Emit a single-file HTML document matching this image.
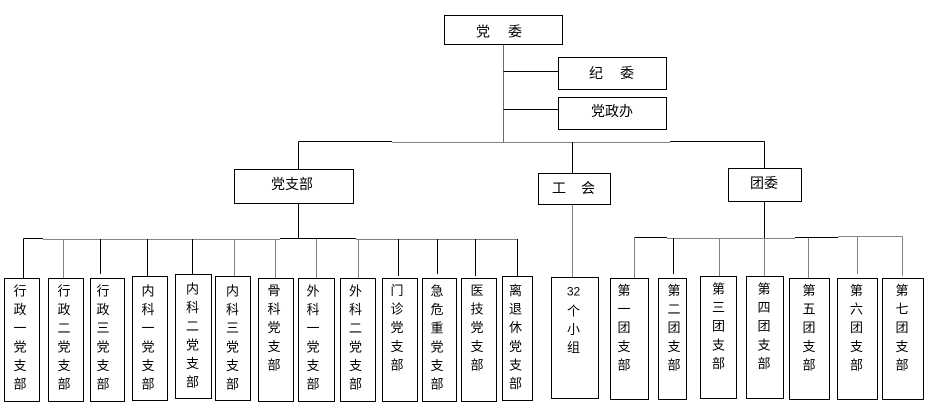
<!DOCTYPE html>
<html>
<head>
<meta charset="utf-8">
<style>
  html, body { margin: 0; padding: 0; background: #fff; }
  body { width: 930px; height: 409px; overflow: hidden; }
  svg { display: block; }
  text { font-family: "Liberation Sans", "Noto Sans CJK SC", sans-serif; font-size: 13px; fill: #000; }
</style>
</head>
<body>
<svg width="930" height="409" viewBox="0 0 930 409" xmlns="http://www.w3.org/2000/svg" shape-rendering="crispEdges">
  <rect x="0" y="0" width="930" height="409" fill="#fff"/>

  <!-- connectors -->
  <g stroke-width="1" fill="none">
    <!-- top trunk -->
    <line x1="503.5" y1="44" x2="503.5" y2="142" stroke="#6a6a6a"/>
    <line x1="503.5" y1="71.5" x2="558" y2="71.5" stroke="#000"/>
    <line x1="503.5" y1="109.5" x2="558" y2="109.5" stroke="#000"/>
    <!-- level-2 horizontal -->
    <line x1="298.5" y1="141.5" x2="392" y2="141.5" stroke="#000"/>
    <line x1="392" y1="142.5" x2="670" y2="142.5" stroke="#808080"/>
    <line x1="670" y1="141.5" x2="764.5" y2="141.5" stroke="#000"/>
    <!-- drops to level 2 -->
    <line x1="298.5" y1="141.5" x2="298.5" y2="169" stroke="#000"/>
    <line x1="572.5" y1="142" x2="572.5" y2="173" stroke="#000"/>
    <line x1="764.5" y1="141.5" x2="764.5" y2="168" stroke="#000"/>
    <!-- below level 2 -->
    <line x1="298.5" y1="203" x2="298.5" y2="239" stroke="#000"/>
    <line x1="572.5" y1="205" x2="572.5" y2="277" stroke="#808080"/>
    <line x1="764.5" y1="201" x2="764.5" y2="238" stroke="#000"/>

    <!-- party branch horizontal -->
    <line x1="23.5" y1="238.5" x2="43" y2="238.5" stroke="#000"/>
    <line x1="43" y1="239.5" x2="280" y2="239.5" stroke="#8a8a8a"/>
    <line x1="280" y1="238.5" x2="356" y2="238.5" stroke="#000"/>
    <line x1="356" y1="239.5" x2="517.5" y2="239.5" stroke="#808080"/>
    <!-- party verticals -->
    <line x1="23.5" y1="238.5" x2="23.5" y2="278" stroke="#000"/>
    <line x1="63.5" y1="239" x2="63.5" y2="278" stroke="#808080"/>
    <line x1="100.5" y1="239" x2="100.5" y2="274" stroke="#000"/>
    <line x1="147.5" y1="239" x2="147.5" y2="276" stroke="#000"/>
    <line x1="192.5" y1="239" x2="192.5" y2="274" stroke="#000"/>
    <line x1="234.5" y1="239" x2="234.5" y2="276" stroke="#808080"/>
    <line x1="275.5" y1="239" x2="275.5" y2="278" stroke="#808080"/>
    <line x1="316.5" y1="239" x2="316.5" y2="278" stroke="#808080"/>
    <line x1="358.5" y1="239" x2="358.5" y2="278" stroke="#808080"/>
    <line x1="398.5" y1="239" x2="398.5" y2="276" stroke="#000"/>
    <line x1="437.5" y1="239" x2="437.5" y2="274" stroke="#000"/>
    <line x1="475.5" y1="239" x2="475.5" y2="276" stroke="#000"/>
    <line x1="517.5" y1="239" x2="517.5" y2="276" stroke="#000"/>

    <!-- youth horizontal -->
    <line x1="634.5" y1="237.5" x2="667" y2="237.5" stroke="#000"/>
    <line x1="667" y1="238.5" x2="795" y2="238.5" stroke="#808080"/>
    <line x1="795" y1="237.5" x2="838" y2="237.5" stroke="#000"/>
    <line x1="838" y1="236.5" x2="902.5" y2="236.5" stroke="#8a8a8a"/>
    <!-- youth verticals -->
    <line x1="634.5" y1="237.5" x2="634.5" y2="278" stroke="#808080"/>
    <line x1="673.5" y1="238" x2="673.5" y2="274" stroke="#000"/>
    <line x1="719.5" y1="238" x2="719.5" y2="276" stroke="#808080"/>
    <line x1="764.5" y1="238" x2="764.5" y2="276" stroke="#808080"/>
    <line x1="808.5" y1="238" x2="808.5" y2="278" stroke="#808080"/>
    <line x1="857.5" y1="237" x2="857.5" y2="274" stroke="#808080"/>
    <line x1="902.5" y1="236.5" x2="902.5" y2="276" stroke="#808080"/>
  </g>

  <!-- boxes -->
  <g fill="#fff" stroke="#000" stroke-width="1">
    <rect x="444.5" y="15.5" width="118" height="29"/>
    <rect x="558.5" y="57.5" width="108" height="32"/>
    <rect x="558.5" y="97.5" width="108" height="32"/>
    <rect x="234.5" y="169.5" width="119" height="34"/>
    <rect x="538.5" y="173.5" width="72" height="31"/>
    <rect x="728.5" y="168.5" width="73" height="33"/>

    <!-- party branches -->
    <rect x="4.5" y="278.5" width="35" height="123"/>
    <rect x="48.5" y="278.5" width="35" height="123"/>
    <rect x="90.5" y="278.5" width="34" height="123"/>
    <rect x="132.5" y="276.5" width="35" height="124"/>
    <rect x="175.5" y="274.5" width="36" height="124"/>
    <rect x="215.5" y="276.5" width="35" height="124"/>
    <rect x="258.5" y="278.5" width="35" height="123"/>
    <rect x="298.5" y="278.5" width="36" height="123"/>
    <rect x="340.5" y="278.5" width="35" height="123"/>
    <rect x="382.5" y="278.5" width="35" height="123"/>
    <rect x="422.5" y="278.5" width="34" height="123"/>
    <rect x="461.5" y="278.5" width="35" height="123"/>
    <rect x="502.5" y="276.5" width="30" height="124"/>

    <!-- union -->
    <rect x="551.5" y="277.5" width="47" height="121"/>

    <!-- youth branches -->
    <rect x="610.5" y="278.5" width="38" height="121"/>
    <rect x="658.5" y="278.5" width="28" height="121"/>
    <rect x="700.5" y="276.5" width="36" height="122"/>
    <rect x="746.5" y="276.5" width="37" height="122"/>
    <rect x="789.5" y="278.5" width="40" height="121"/>
    <rect x="837.5" y="278.5" width="40" height="121"/>
    <rect x="882.5" y="278.5" width="41" height="121"/>
  </g>

  <!-- top-level labels -->
  <g text-anchor="middle" dominant-baseline="central" font-size="14">
    <text x="483" y="31.5" style="font-size:14px">党</text>
    <text x="515" y="31.5" style="font-size:14px">委</text>
    <text x="596" y="73" style="font-size:14px">纪</text>
    <text x="627" y="73" style="font-size:14px">委</text>
    <text x="612" y="111" style="font-size:14px">党政办</text>
    <text x="292" y="184" style="font-size:14px">党支部</text>
    <text x="559" y="188" style="font-size:14px">工</text>
    <text x="588" y="188" style="font-size:14px">会</text>
    <text x="764" y="183" style="font-size:14px">团委</text>
  </g>

  <!-- vertical labels -->
  <g text-anchor="middle" dominant-baseline="central">
    <!-- 行政一党支部 x=20 -->
    <text x="20" y="291">行</text><text x="20" y="309.6">政</text><text x="20" y="328.2">一</text><text x="20" y="346.8">党</text><text x="20" y="365.4">支</text><text x="20" y="384">部</text>
    <!-- 行政二党支部 -->
    <text x="64" y="291">行</text><text x="64" y="309.6">政</text><text x="64" y="328.2">二</text><text x="64" y="346.8">党</text><text x="64" y="365.4">支</text><text x="64" y="384">部</text>
    <!-- 行政三党支部 -->
    <text x="103" y="291">行</text><text x="103" y="309.6">政</text><text x="103" y="328.2">三</text><text x="103" y="346.8">党</text><text x="103" y="365.4">支</text><text x="103" y="384">部</text>
    <!-- 内科一党支部 -->
    <text x="148" y="291">内</text><text x="148" y="309.6">科</text><text x="148" y="328.2">一</text><text x="148" y="346.8">党</text><text x="148" y="365.4">支</text><text x="148" y="384">部</text>
    <!-- 内科二党支部 -->
    <text x="192.5" y="289">内</text><text x="192.5" y="307.6">科</text><text x="192.5" y="326.2">二</text><text x="192.5" y="344.8">党</text><text x="192.5" y="363.4">支</text><text x="192.5" y="382">部</text>
    <!-- 内科三党支部 -->
    <text x="232.5" y="291">内</text><text x="232.5" y="309.6">科</text><text x="232.5" y="328.2">三</text><text x="232.5" y="346.8">党</text><text x="232.5" y="365.4">支</text><text x="232.5" y="384">部</text>
    <!-- 骨科党支部 -->
    <text x="274" y="290.5">骨</text><text x="274" y="309.1">科</text><text x="274" y="327.7">党</text><text x="274" y="346.3">支</text><text x="274" y="364.9">部</text>
    <!-- 外科一党支部 -->
    <text x="313" y="291">外</text><text x="313" y="309.6">科</text><text x="313" y="328.2">一</text><text x="313" y="346.8">党</text><text x="313" y="365.4">支</text><text x="313" y="384">部</text>
    <!-- 外科二党支部 -->
    <text x="355.5" y="291">外</text><text x="355.5" y="309.6">科</text><text x="355.5" y="328.2">二</text><text x="355.5" y="346.8">党</text><text x="355.5" y="365.4">支</text><text x="355.5" y="384">部</text>
    <!-- 门诊党支部 -->
    <text x="397" y="290.5">门</text><text x="397" y="309.1">诊</text><text x="397" y="327.7">党</text><text x="397" y="346.3">支</text><text x="397" y="364.9">部</text>
    <!-- 急危重党支部 -->
    <text x="437" y="291">急</text><text x="437" y="309.6">危</text><text x="437" y="328.2">重</text><text x="437" y="346.8">党</text><text x="437" y="365.4">支</text><text x="437" y="384">部</text>
    <!-- 医技党支部 -->
    <text x="477" y="290.5">医</text><text x="477" y="309.1">技</text><text x="477" y="327.7">党</text><text x="477" y="346.3">支</text><text x="477" y="364.9">部</text>
    <!-- 离退休党支部 -->
    <text x="515.5" y="290.5">离</text><text x="515.5" y="309.1">退</text><text x="515.5" y="327.7">休</text><text x="515.5" y="346.3">党</text><text x="515.5" y="364.9">支</text><text x="515.5" y="383.5">部</text>

    <!-- 32个小组 -->
    <text x="573.5" y="291.5" style="font-size:12px">32</text><text x="573.5" y="311">个</text><text x="573.5" y="329.5">小</text><text x="573.5" y="347.5">组</text>

    <!-- youth -->
    <text x="624" y="290.5">第</text><text x="624" y="309.1">一</text><text x="624" y="327.7">团</text><text x="624" y="346.3">支</text><text x="624" y="364.9">部</text>
    <text x="674" y="290.5">第</text><text x="674" y="309.1">二</text><text x="674" y="327.7">团</text><text x="674" y="346.3">支</text><text x="674" y="364.9">部</text>
    <text x="718.5" y="289">第</text><text x="718.5" y="307.6">三</text><text x="718.5" y="326.2">团</text><text x="718.5" y="344.8">支</text><text x="718.5" y="363.4">部</text>
    <text x="764" y="289">第</text><text x="764" y="307.6">四</text><text x="764" y="326.2">团</text><text x="764" y="344.8">支</text><text x="764" y="363.4">部</text>
    <text x="809" y="290.5">第</text><text x="809" y="309.1">五</text><text x="809" y="327.7">团</text><text x="809" y="346.3">支</text><text x="809" y="364.9">部</text>
    <text x="856.5" y="290.5">第</text><text x="856.5" y="309.1">六</text><text x="856.5" y="327.7">团</text><text x="856.5" y="346.3">支</text><text x="856.5" y="364.9">部</text>
    <text x="902" y="290.5">第</text><text x="902" y="309.1">七</text><text x="902" y="327.7">团</text><text x="902" y="346.3">支</text><text x="902" y="364.9">部</text>
  </g>
</svg>
</body>
</html>
